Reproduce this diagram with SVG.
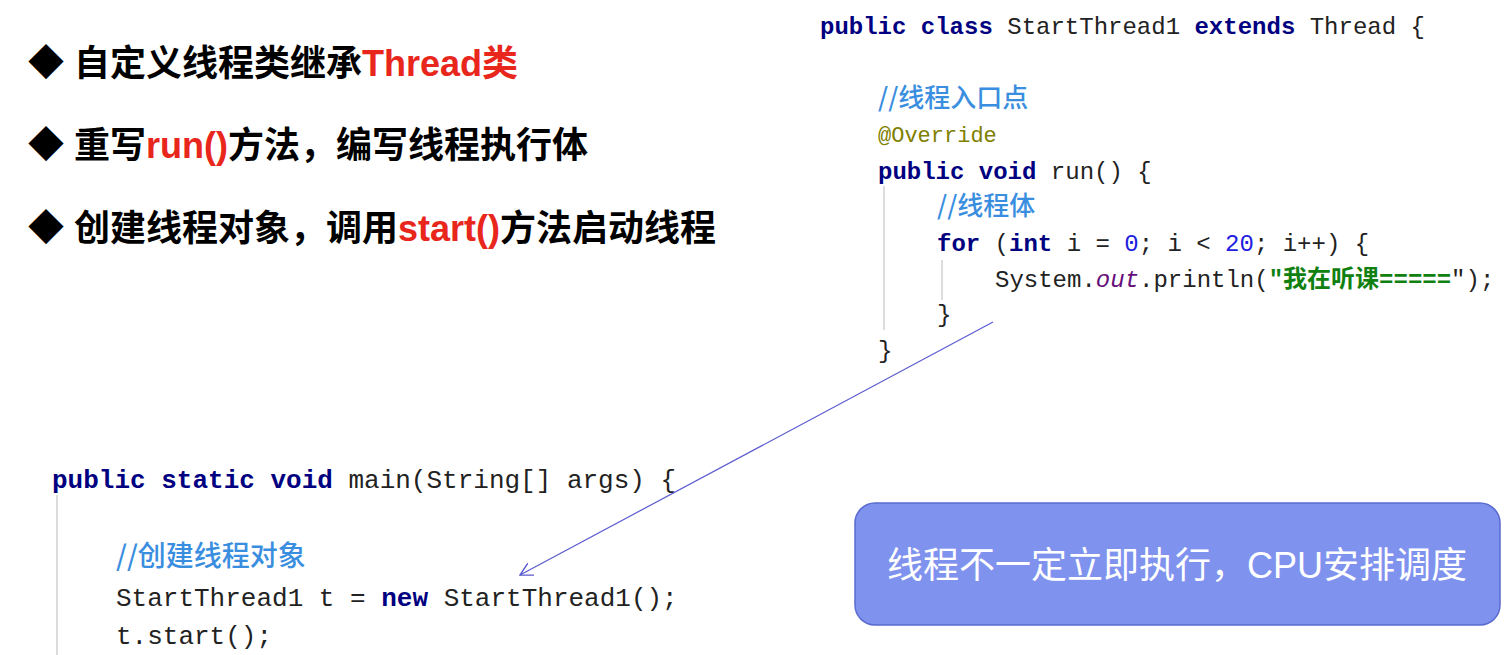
<svg xmlns="http://www.w3.org/2000/svg" width="1509" height="655" viewBox="0 0 1509 655">
<defs>
<marker id="arr" viewBox="0 0 12 12" refX="11" refY="6" markerWidth="14" markerHeight="14" orient="auto" markerUnits="userSpaceOnUse">
<path d="M0,0 L11,6 L0,12" fill="none" stroke="#5a5ad0" stroke-width="1.2"/>
</marker>
<style>
.b{font-family:"Liberation Sans","Noto Sans CJK SC",sans-serif;font-weight:bold;font-size:36px;fill:#000}
.r{fill:#e8261c}
.c{font-family:"Liberation Mono","Noto Sans CJK SC",monospace;fill:#222}
.k{fill:#000080;font-weight:bold}
.cm{fill:#3a8ee0;font-family:"Noto Sans CJK SC",sans-serif;font-weight:500}
.n{fill:#2020e0}
.s{fill:#108010;font-weight:bold}
.g{stroke:#dcdcdc;stroke-width:2}
</style>
</defs>
<rect width="1509" height="655" fill="#fff"/>
<g id="bullets">
<text class="b" x="28" y="76">◆ 自定义线程类继承<tspan class="r">Thread类</tspan></text>
<text class="b" x="28" y="158">◆ 重写<tspan class="r">run()</tspan>方法，编写线程执行体</text>
<text class="b" x="28" y="241">◆ 创建线程对象，调用<tspan class="r">start()</tspan>方法启动线程</text>
</g>
<g id="threadClass" class="c" font-size="24">
<line class="g" x1="884" y1="186" x2="884" y2="330"/>
<line class="g" x1="942" y1="260" x2="942" y2="300"/>
<text x="820" y="34"><tspan class="k">public class</tspan> StartThread1 <tspan class="k">extends</tspan> Thread {</text>
<text x="878" y="107" class="cm" font-size="26">//线程入口点</text>
<text x="878" y="142" fill="#808000" font-size="22">@Override</text>
<text x="878" y="179"><tspan class="k">public void</tspan> run() {</text>
<text x="937" y="215" class="cm" font-size="26">//线程体</text>
<text x="937" y="251"><tspan class="k">for</tspan> (<tspan class="k">int</tspan> i = <tspan class="n">0</tspan>; i &lt; <tspan class="n">20</tspan>; i++) {</text>
<text x="995" y="287">System.<tspan font-style="italic" fill="#660e7a">out</tspan>.println(<tspan class="s">"我在听课=====</tspan>");</text>
<text x="937" y="322">}</text>
<text x="878" y="358">}</text>
</g>
<g id="mainMethod" class="c" font-size="26">
<line class="g" x1="57" y1="495" x2="57" y2="655"/>
<text x="52" y="488"><tspan class="k">public static void</tspan> main(String[] args) {</text>
<text x="116" y="566" class="cm" font-size="28">//创建线程对象</text>
<text x="116" y="606">StartThread1 t = <tspan class="k">new</tspan> StartThread1();</text>
<text x="116" y="644">t.start();</text>
</g>
<g id="note">
<rect x="855" y="503" width="645" height="122" rx="20" fill="#7f93ee" stroke="#5a6cd0" stroke-width="1.5"/>
<text x="1177" y="578" text-anchor="middle" font-family="Liberation Sans,Noto Sans CJK SC,sans-serif" font-size="36" fill="#fff">线程不一定立即执行，CPU安排调度</text>
</g>
<g id="connectors">
<line x1="993" y1="322" x2="520" y2="575" stroke="#5a5ad0" stroke-width="1.2" marker-end="url(#arr)"/>
</g>
</svg>
